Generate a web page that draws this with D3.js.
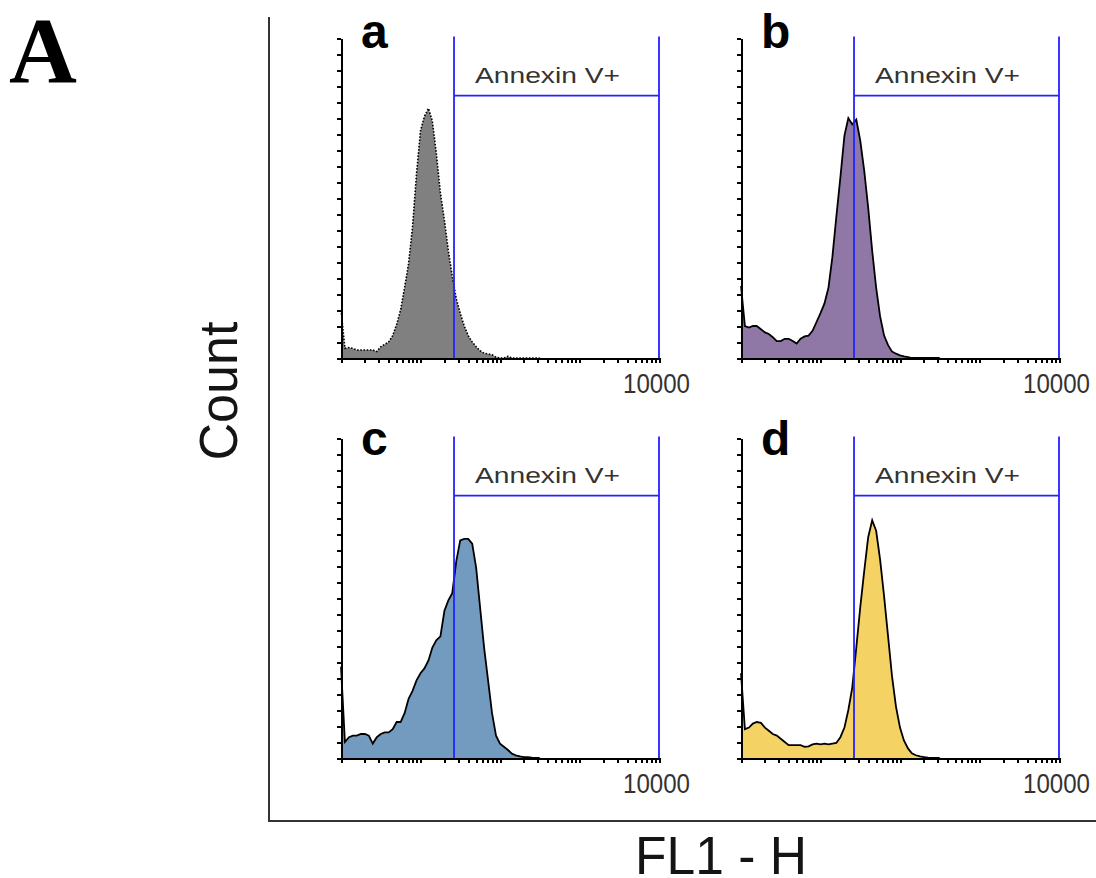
<!DOCTYPE html>
<html>
<head>
<meta charset="utf-8">
<script src="https://cdn.jsdelivr.net/npm/d3@7"></script>
<style>
body { margin: 0; background: #fff; }
svg { display: block; }
.axis path { stroke: #000; stroke-width: 2; shape-rendering: crispEdges; }
.axis line { stroke: #000; stroke-width: 2; shape-rendering: crispEdges; }
</style>
</head>
<body>
<div id="flow-figure"></div>
<script>
// FL1 channel centres (log spaced, 0.05 decade apart)
var fl1Channels = [1.00, 1.12, 1.26, 1.41, 1.58, 1.78, 2.00, 2.24, 2.51, 2.82,
    3.16, 3.55, 3.98, 4.47, 5.01, 5.62, 6.31, 7.08, 7.94, 8.91,
    10.0, 11.2, 12.6, 14.1, 15.8, 17.8, 20.0, 22.4, 25.1, 28.2,
    31.6, 35.5, 39.8, 44.7, 50.1, 56.2, 63.1, 70.8, 79.4, 89.1,
    100, 112, 126, 141, 158, 178, 200, 224, 251, 282, 316];

// cell counts per channel
var countsA = [30, 6, 6.5, 6, 5, 5, 5, 5, 5, 4,
    7, 8.5, 10, 14, 21, 30, 44, 59, 82, 115,
    142, 151, 156, 148, 128, 103, 86, 67, 51, 37,
    28, 20, 14, 10, 7, 4.5, 3, 2.5, 2, 0.5,
    0, 0, 1, 0, 0, 0, 0, 0, 0, 0, 0];
var countsB = [45, 20, 19, 20, 20, 18, 16, 15, 13, 10.6,
    10.6, 12, 12, 10.6, 9, 12, 13.5, 14, 17, 22.5,
    28, 34, 44, 63, 88, 113, 139, 150, 146, 149,
    136, 117, 94, 67, 44, 26, 14, 8, 4, 2.7,
    1.7, 1, 0.6, 0, 0, 0, 0, 0, 0, 0, 0];
var countsC = [57, 10, 13, 14, 14, 15, 15, 14, 9, 13,
    15, 16, 16, 18, 22.5, 22.5, 28, 37, 42, 48.5,
    53, 56, 61, 69, 73.5, 76, 92, 98.5, 103, 123,
    136, 137, 137, 134, 119, 94, 69, 48.5, 28, 14,
    9, 7, 5, 2.7, 1.7, 1, 0.6, 0.6, 0.2, 0, 0];
var countsD = [53, 18, 19, 21.5, 22.5, 22, 19, 17, 15, 14,
    12, 10, 8, 8, 8, 8, 7, 7.3, 8.5, 9,
    8.5, 9, 8.5, 9, 9.4, 13, 19, 30, 44, 69,
    94, 117, 138, 148.5, 142, 124, 101, 76, 51, 32,
    19, 11, 6, 3, 1.7, 1, 0.6, 0.2, 0, 0, 0];

var panelNames = ["a", "b", "c", "d"];
var xTickValues = [1, 2, 3, 4, 5, 6, 7, 8, 9, 10,
    20, 30, 40, 50, 60, 70, 80, 90, 100,
    200, 300, 400, 500, 600, 700, 800, 900, 1000,
    2000, 3000, 4000, 5000, 6000, 7000, 8000, 9000, 10000];
var yTickValues = [0, 10, 20, 30, 40, 50, 60, 70, 80, 90, 100,
    110, 120, 130, 140, 150, 160, 170, 180, 190, 200];
var gateRange = [26.4, 10000];
var gateLevel = 164;
var gateLabel = "Annexin V+";
var xEndLabel = "10000";

var panelCounts = [countsA, countsB, countsC, countsD];
var panelFills = ["#808080", "#8f77a6", "#739abf", "#f4d264"];
var panelPos = [{x: 341, y: 38}, {x: 741, y: 38}, {x: 341, y: 438}, {x: 741, y: 438}];
var labelDy = [10, 10, 17, 17];

var panelW = 318, panelH = 320;

var svg = d3.select("#flow-figure")
    .append("svg")
    .attr("width", 1096)
    .attr("height", 878);

// figure letter
svg.append("text")
    .attr("x", 9)
    .attr("y", 82)
    .style("font-family", "'Liberation Serif', 'Times New Roman', serif")
    .style("font-weight", "bold")
    .style("font-size", "94px")
    .style("fill", "#000")
    .text("A");

// outer frame (left + bottom)
svg.append("path")
    .attr("d", "M269,17V821H1096")
    .attr("fill", "none")
    .attr("stroke", "#333")
    .attr("stroke-width", 2);

svg.append("text")
    .attr("transform", "translate(237,391) rotate(-90)")
    .attr("text-anchor", "middle")
    .attr("textLength", 139)
    .attr("lengthAdjust", "spacingAndGlyphs")
    .style("font-family", "'Liberation Sans', Arial, sans-serif")
    .style("font-size", "54px")
    .style("fill", "#141414")
    .text("Count");

svg.append("text")
    .attr("x", 721)
    .attr("y", 874)
    .attr("text-anchor", "middle")
    .attr("textLength", 172)
    .attr("lengthAdjust", "spacingAndGlyphs")
    .style("font-family", "'Liberation Sans', Arial, sans-serif")
    .style("font-size", "54px")
    .style("fill", "#141414")
    .text("FL1 - H");

var x = d3.scaleLog().domain([1, 10000]).range([0, panelW]);
var y = d3.scaleLinear().domain([0, 200]).range([panelH, 0]);

var area = d3.area()
    .x(function(d) { return x(d.fl1); })
    .y0(panelH)
    .y1(function(d) { return y(d.count); });
var line = d3.line()
    .x(function(d) { return x(d.fl1); })
    .y(function(d) { return y(d.count); });

for (var p = 0; p < 4; p++) {
    var rows = fl1Channels.map(function(v, i) {
        return {fl1: v, count: panelCounts[p][i]};
    });
    var g = svg.append("g")
        .attr("transform", "translate(" + panelPos[p].x + "," + panelPos[p].y + ")");

    g.append("path")
        .datum(rows)
        .attr("d", area)
        .attr("fill", panelFills[p]);

    g.append("path")
        .datum(rows)
        .attr("d", line)
        .attr("fill", "none")
        .attr("stroke", "#000")
        .attr("stroke-width", p == 0 ? 1.6 : 1.8)
        .attr("stroke-dasharray", p == 0 ? "1.6,1.6" : null);

    // Annexin V+ gate
    var gx0 = x(gateRange[0]), gx1 = x(gateRange[1]), gy = y(gateLevel);
    g.append("path")
        .attr("d", "M" + gx0 + "," + (panelH) + "V" + (y(200) - 1.5) +
            "M" + gx0 + "," + gy + "H" + gx1 +
            "M" + gx1 + "," + (y(200) - 1.5) + "V" + panelH)
        .attr("fill", "none")
        .attr("stroke", "#2323ff")
        .attr("stroke-width", 1.8);

    g.append("text")
        .attr("x", (gx0 + gx1) / 2 - 9)
        .attr("y", gy - 13)
        .attr("text-anchor", "middle")
        .attr("textLength", 145)
        .attr("lengthAdjust", "spacingAndGlyphs")
        .style("font-family", "'Liberation Sans', Arial, sans-serif")
        .style("font-size", "22px")
        .style("fill", "#333")
        .text(gateLabel);

    g.append("g")
        .attr("class", "axis")
        .attr("transform", "translate(0," + panelH + ")")
        .call(d3.axisBottom(x).tickValues(xTickValues).tickFormat("").tickSize(5).tickSizeOuter(0));

    g.append("g")
        .attr("class", "axis")
        .call(d3.axisLeft(y).tickValues(yTickValues).tickFormat("").tickSize(4).tickSizeOuter(0));

    g.append("text")
        .attr("x", panelW + 31)
        .attr("y", panelH + 35)
        .attr("text-anchor", "end")
        .attr("textLength", 67)
        .attr("lengthAdjust", "spacingAndGlyphs")
        .style("font-family", "'Liberation Sans', Arial, sans-serif")
        .style("font-size", "28px")
        .style("fill", "#333")
        .text(xEndLabel);

    g.append("text")
        .attr("x", 20)
        .attr("y", labelDy[p])
        .style("font-family", "'Liberation Sans', Arial, sans-serif")
        .style("font-weight", "bold")
        .style("font-size", "48px")
        .style("fill", "#000")
        .text(panelNames[p]);
}
</script>
</body>
</html>
